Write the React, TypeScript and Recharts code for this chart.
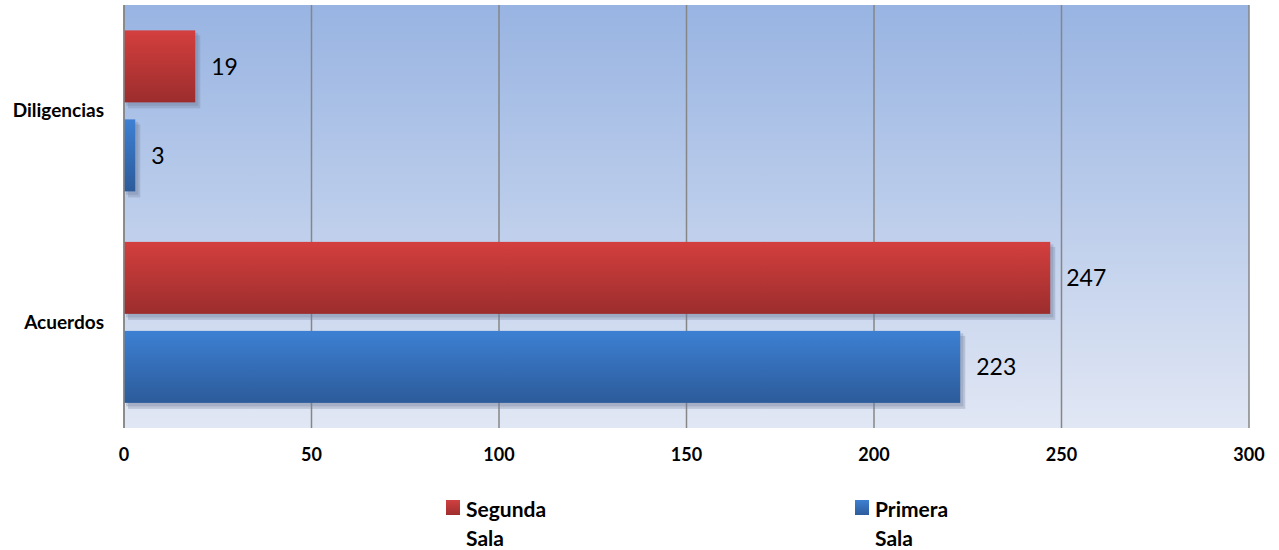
import React from "react";
import { BarChart, Bar, XAxis, YAxis, CartesianGrid, LabelList } from "recharts";

const categories = ["Diligencias", "Acuerdos"];
const segundaSala = [19, 247];
const primeraSala = [3, 223];
const xTicks = [0, 50, 100, 150, 200, 250, 300];
const legendNames = [["Segunda", "Sala"], ["Primera", "Sala"]];

const data = categories.map((c, i) => ({ name: c, segunda: segundaSala[i], primera: primeraSala[i] }));

const FONT = "Lato, 'Liberation Sans', sans-serif";

const makeShape = (gradId: string) => (props: any) => {
  const { x, y, width, height } = props;
  if (width <= 0) return null;
  return (
    <g>
      <rect x={x + 4} y={y + 5} width={width + 1} height={height + 1} fill="#6f7f9a" opacity={0.3} />
      <rect x={x + 2} y={y + 2.5} width={width + 1} height={height + 1} fill="#6f7f9a" opacity={0.3} />
      <rect x={x} y={y} width={width} height={height} fill={`url(#${gradId})`} />
    </g>
  );
};

const LegendItem = ({ left, colors, lines }: { left: number; colors: [string, string]; lines: string[] }) => (
  <div style={{ position: "absolute", left, top: 494, display: "flex", fontFamily: FONT, fontWeight: 700, fontSize: 21, color: "#000" }}>
    <div style={{ width: 14, height: 15, marginTop: 6, background: `linear-gradient(${colors[0]},${colors[1]})` }} />
    <div style={{ marginLeft: 6, lineHeight: "29px" }}>
      {lines[0]}
      <br />
      {lines[1]}
    </div>
  </div>
);

export default function App() {
  return (
    <div style={{ position: "absolute", left: 0, top: 0, width: 1279, height: 550, background: "#fff" }}>
      <BarChart
        width={1279}
        height={550}
        data={data}
        layout="vertical"
        margin={{ top: 5, right: 30, bottom: 82, left: 0 }}
        barCategoryGap="12%"
        barGap={17}
      >
        <defs>
          <linearGradient id="bg" x1="0" y1="0" x2="0" y2="1">
            <stop offset="0%" stopColor="#98b4e2" />
            <stop offset="100%" stopColor="#e1e7f4" />
          </linearGradient>
          <linearGradient id="red" x1="0" y1="0" x2="0" y2="1">
            <stop offset="0%" stopColor="#d33f3e" />
            <stop offset="100%" stopColor="#9c2d2d" />
          </linearGradient>
          <linearGradient id="blue" x1="0" y1="0" x2="0" y2="1">
            <stop offset="0%" stopColor="#3d80d3" />
            <stop offset="100%" stopColor="#2c5b9a" />
          </linearGradient>
        </defs>
        <CartesianGrid horizontal={false} vertical stroke="#868686" strokeWidth={1.5} fill="url(#bg)" fillOpacity={1} />
        <XAxis
          type="number"
          domain={[0, 300]}
          ticks={xTicks}
          interval={0}
          axisLine={false}
          tickLine={false}
          tickMargin={14}
          height={40}
          tick={{ fontFamily: FONT, fontWeight: 700, fontSize: 18, fill: "#000" }}
        />
        <YAxis
          type="category"
          dataKey="name"
          width={124}
          axisLine={{ stroke: "#868686", strokeWidth: 1.5 }}
          tickLine={false}
          tickSize={0}
          tickMargin={20}
          tick={{ fontFamily: FONT, fontWeight: 700, fontSize: 19, fill: "#000" }}
        />
        <Bar dataKey="segunda" name="Segunda Sala" shape={makeShape("red")} isAnimationActive={false}>
          <LabelList dataKey="segunda" position="right" offset={16} style={{ fontFamily: FONT, fontSize: 23, fill: "#000" }} />
        </Bar>
        <Bar dataKey="primera" name="Primera Sala" shape={makeShape("blue")} isAnimationActive={false}>
          <LabelList dataKey="primera" position="right" offset={16} style={{ fontFamily: FONT, fontSize: 23, fill: "#000" }} />
        </Bar>
      </BarChart>
      <LegendItem left={446} colors={["#d04040", "#a02e2e"]} lines={legendNames[0]} />
      <LegendItem left={855} colors={["#3e80d2", "#2d5c9c"]} lines={legendNames[1]} />
    </div>
  );
}
